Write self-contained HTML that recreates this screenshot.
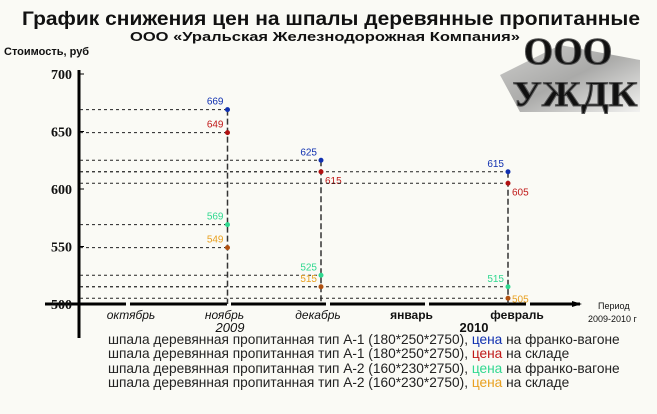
<!DOCTYPE html>
<html><head><meta charset="utf-8"><style>
body{margin:0;background:#fafaf5;}
svg{display:block;font-family:"Liberation Sans","DejaVu Sans",sans-serif;}
</style></head><body>
<svg width="657" height="414" viewBox="0 0 657 414" id="chart">
<defs><linearGradient id="lg" x1="0" y1="0" x2="1" y2="1"><stop offset="0" stop-color="#bbb"/><stop offset="0.5" stop-color="#888"/><stop offset="1" stop-color="#eee"/></linearGradient></defs>
<rect width="657" height="414" fill="#fafaf5"/>
<text x="22" y="25" textLength="618" lengthAdjust="spacingAndGlyphs" font-size="19" font-weight="bold" fill="#111">График снижения цен на шпалы деревянные пропитанные</text>
<text x="130" y="41" textLength="390" lengthAdjust="spacingAndGlyphs" font-size="13" font-weight="bold" fill="#111">ООО «Уральская Железнодорожная Компания»</text>
<text x="4" y="55" font-size="11" font-weight="bold" fill="#111">Стоимость, руб</text>
<g>
<polygon points="500,75 560,45 640,60 640,112 520,112" fill="url(#lg)" opacity="0.7"/>
<text x="568" y="64" text-anchor="middle" font-family="Liberation Serif,serif" font-size="38" font-weight="bold" fill="#111" stroke="#555" stroke-width="1">ООО</text>
<text x="575" y="106" text-anchor="middle" textLength="125" lengthAdjust="spacingAndGlyphs" font-family="Liberation Serif,serif" font-size="36" font-weight="bold" fill="#111" stroke="#555" stroke-width="1">УЖДК</text>
</g>
<g id="axes"></g>
<g id="marks"></g>
<text x="598" y="309" font-size="9" fill="#111">Период</text>
<text x="588" y="322" font-size="9" fill="#111">2009-2010 г</text>
<text x="230" y="332" text-anchor="middle" font-size="13" font-style="italic" fill="#111">2009</text>
<text x="474" y="332" text-anchor="middle" font-size="13" font-weight="bold" fill="#111">2010</text>
<g font-size="13.7" fill="#222">
<text x="108" y="344">шпала деревянная пропитанная тип А-1 (180*250*2750), <tspan fill="#1030b0">цена</tspan> на франко-вагоне</text>
<text x="108" y="358">шпала деревянная пропитанная тип А-1 (180*250*2750), <tspan fill="#c01818">цена</tspan> на складе</text>
<text x="108" y="373">шпала деревянная пропитанная тип А-2 (160*230*2750), <tspan fill="#30d890">цена</tspan> на франко-вагоне</text>
<text x="108" y="387">шпала деревянная пропитанная тип А-2 (160*230*2750), <tspan fill="#e8a020">цена</tspan> на складе</text>
</g>
</svg>
<script>
const months=["октябрь","ноябрь","декабрь","январь","февраль"];
const monthBold=[false,false,false,true,true];
const yTicks=[700,650,600,550,500];
const seriesNames=["a1-wagon","a1-warehouse","a2-wagon","a2-warehouse"];
const seriesColors=["#1030b0","#c01818","#30d890","#e8a020"];
const dotColors=["#1030b0","#b01010","#30d890","#b05010"];
const a1Wagon=[null,669,625,null,615];
const a1Warehouse=[null,649,615,null,605];
const a2Wagon=[null,569,525,null,515];
const a2Warehouse=[null,549,515,null,505];
const series=[a1Wagon,a1Warehouse,a2Wagon,a2Warehouse];
const NS="http://www.w3.org/2000/svg";
function y(v){return 304-(v-500)*1.15;}
function x(i){return 134+i*93.5;}
function mk(tag,attrs,parent){const e=document.createElementNS(NS,tag);for(const k in attrs)e.setAttribute(k,attrs[k]);parent.appendChild(e);return e;}
const ax=document.getElementById('axes'),mg=document.getElementById('marks');
let e=mk('line',{x1:79,y1:70,x2:79,y2:338,stroke:'#000','stroke-width':3},ax);


e=mk('line',{x1:45,y1:304,x2:580,y2:304,stroke:'#000','stroke-width':3},ax);


[128,229,328,427,528].forEach(g=>{mk('rect',{x:g-2,y:301,width:4,height:6,fill:'#fafaf5'},ax);});
mk('polygon',{points:'572,301 582,304 572,307',fill:'#000'},ax);
yTicks.forEach(t=>{
 const l=mk('text',{x:72,y:y(t)+5,'text-anchor':'end','font-size':14,'font-weight':'bold','font-family':'Liberation Serif,serif',fill:'#111'},ax);
 l.textContent=t;
 
 
 mk('line',{x1:79,y1:y(t),x2:84,y2:y(t),stroke:'#000','stroke-width':1},ax);
});
months.forEach((m,i)=>{
 const l=mk('text',{x:x(i)-3+(i===4?12:0),y:319,'text-anchor':'middle','font-size':12,fill:'#111'},ax);
 if(monthBold[i])l.setAttribute('font-weight','bold');else l.setAttribute('font-style','italic');
 l.textContent=m;
 
 
});
months.forEach((m,i)=>{
 const vals=series.map(s=>s[i]).filter(v=>v!==null);
 if(!vals.length)return;
 const v=mk('line',{x1:x(i),y1:y(Math.max(...vals)),x2:x(i),y2:304,stroke:'#333','stroke-width':1.5,'stroke-dasharray':'6,3'},mg);
 
 
});
series.forEach((s,k)=>{
 s.forEach((val,i)=>{
  if(val===null)return;
  const h=mk('line',{x1:80,y1:y(val),x2:x(i),y2:y(val),stroke:'#222','stroke-width':1,'stroke-dasharray':'3,3'},mg);
  
  
  const c=mk('circle',{cx:x(i),cy:y(val),r:2.5,fill:dotColors[k]},mg);
  
  
  let tx=x(i)-4,ty=y(val)-5,anc='end';
  if(k===1&&i>1){tx=x(i)+4;ty=y(val)+12;anc='start';}
  if(k===3&&i===4){tx=x(i)+4;ty=y(val)+4;anc='start';}
  const t=mk('text',{x:tx,y:ty,'text-anchor':anc,'font-size':10,fill:seriesColors[k]},mg);
  t.textContent=val;
  
  
 });
});
</script>
</body></html>
